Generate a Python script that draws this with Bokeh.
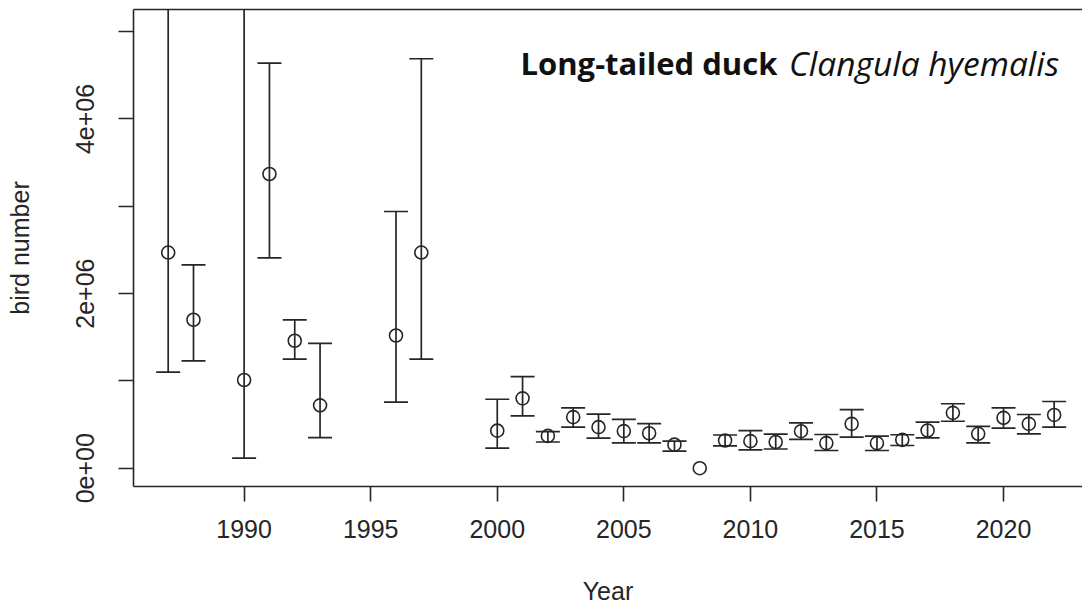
import numpy as np
from bokeh.plotting import figure
from bokeh.models import ColumnDataSource, FixedTicker, LinearAxis, Range1d, Label
from bokeh.embed import file_html
from bokeh.resources import INLINE

# ---- data ----
years = [1987, 1988, 1990, 1991, 1992, 1993, 1996, 1997,
         2000, 2001, 2002, 2003, 2004, 2005, 2006, 2007, 2008, 2009,
         2010, 2011, 2012, 2013, 2014, 2015, 2016, 2017, 2018, 2019,
         2020, 2021, 2022]
estimate = [2.47e6, 1.70e6, 1.01e6, 3.37e6, 1.46e6, 0.72e6, 1.52e6, 2.47e6,
            0.43e6, 0.80e6, 0.37e6, 0.585e6, 0.47e6, 0.425e6, 0.40e6, 0.27e6, 0.0, 0.317e6,
            0.31e6, 0.30e6, 0.424e6, 0.287e6, 0.508e6, 0.287e6, 0.325e6, 0.432e6, 0.634e6, 0.394e6,
            0.577e6, 0.508e6, 0.61e6]
lower = [1.10e6, 1.23e6, 0.115e6, 2.41e6, 1.25e6, 0.35e6, 0.756e6, 1.25e6,
         0.23e6, 0.60e6, 0.30e6, 0.47e6, 0.345e6, 0.29e6, 0.29e6, 0.195e6, np.nan, 0.256e6,
         0.21e6, 0.22e6, 0.33e6, 0.203e6, 0.355e6, 0.203e6, 0.26e6, 0.348e6, 0.538e6, 0.29e6,
         0.458e6, 0.394e6, 0.47e6]
upper = [6.8e6, 2.33e6, 8.5e6, 4.64e6, 1.70e6, 1.43e6, 2.94e6, 4.69e6,
         0.79e6, 1.05e6, 0.42e6, 0.69e6, 0.62e6, 0.56e6, 0.51e6, 0.31e6, np.nan, 0.38e6,
         0.43e6, 0.39e6, 0.52e6, 0.386e6, 0.672e6, 0.367e6, 0.383e6, 0.527e6, 0.738e6, 0.48e6,
         0.692e6, 0.615e6, 0.764e6]
x_ticks = [1990, 1995, 2000, 2005, 2010, 2015, 2020]
y_ticks = [0, 1e6, 2e6, 3e6, 4e6, 5e6]
y_tick_labels = {0: "0e+00", 1000000: "", 2000000: "2e+06", 3000000: "", 4000000: "4e+06", 5000000: ""}
title_common = "Long-tailed duck"
title_latin = "Clangula hyemalis"

src = ColumnDataSource(dict(year=years, est=estimate, lo=lower, hi=upper))

INK = "#262626"
FONT = "Liberation Sans"

p = figure(width=1082, height=612, output_backend="svg", toolbar_location=None,
           x_range=Range1d(1985.63, 2023.12), y_range=Range1d(-0.2096e6, 5.254e6),
           min_border_left=133, min_border_right=0, min_border_top=9, min_border_bottom=126,
           x_axis_label="Year", y_axis_label="bird number")
p.background_fill_color = "white"
p.border_fill_color = "white"
p.outline_line_color = None
p.grid.visible = False

# stems
p.segment(x0="year", y0="lo", x1="year", y1="hi", source=src, line_color=INK, line_width=1.7)
# caps
p.scatter(x="year", y="hi", source=src, marker="dash", size=24, line_color=INK, line_width=1.7)
p.scatter(x="year", y="lo", source=src, marker="dash", size=24, line_color=INK, line_width=1.7)
# points
p.scatter(x="year", y="est", source=src, marker="circle", size=13, fill_color=None,
          line_color=INK, line_width=1.6)

for ax in (p.xaxis[0], p.yaxis[0]):
    ax.axis_line_color = INK
    ax.axis_line_width = 1.6
    ax.major_tick_line_color = INK
    ax.major_tick_line_width = 1.6
    ax.major_tick_in = 0
    ax.major_tick_out = 15
    ax.minor_tick_line_color = None
    ax.major_label_text_font = FONT
    ax.major_label_text_font_size = "25px"
    ax.major_label_text_color = INK
    ax.axis_label_text_font = FONT
    ax.axis_label_text_font_size = "25px"
    ax.axis_label_text_font_style = "normal"
    ax.axis_label_text_color = INK

p.xaxis[0].ticker = FixedTicker(ticks=x_ticks)
p.xaxis[0].major_label_standoff = 18
p.xaxis[0].axis_label_standoff = 36

p.yaxis[0].ticker = FixedTicker(ticks=y_ticks)
p.yaxis[0].major_label_overrides = y_tick_labels
p.yaxis[0].major_label_orientation = "vertical"
p.yaxis[0].major_label_standoff = 24
p.yaxis[0].axis_label_standoff = 40

top = LinearAxis(ticker=FixedTicker(ticks=[]), axis_line_color=INK, axis_line_width=1.6,
                 major_tick_out=0, major_tick_in=0, minor_tick_out=0, minor_tick_in=0,
                 major_label_text_font_size="0px", major_label_standoff=0)
p.add_layout(top, "above")

p.add_layout(Label(x=2000.92, y=4.64e6, text=title_common, text_font="Open Sans",
                   text_font_style="bold", text_font_size="31px", text_color="#111111",
                   text_align="left", text_baseline="alphabetic"))
p.add_layout(Label(x=2022.20, y=4.64e6, text=title_latin, text_font="Open Sans",
                   text_font_style="italic", text_font_size="33.5px", text_color="#111111",
                   text_align="right", text_baseline="alphabetic"))

open("out.html", "w").write(file_html(p, INLINE))
